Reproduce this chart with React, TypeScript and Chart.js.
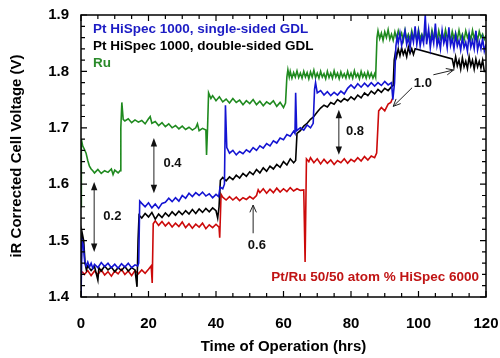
import React, { useEffect, useRef } from 'react';
import { Chart, registerables } from 'chart.js';

Chart.register(...registerables);

const FONT = '"Liberation Sans", Arial, Helvetica, sans-serif';

// Axis ranges / ticks
const xRange = [0, 120];
const yRange = [1.4, 1.9];
const xMajorStep = 20;
const xMinorStep = 5;
const yMajorStep = 0.1;
const yMinorStep = 0.02;

const xTitle = 'Time of Operation (hrs)';
const yTitle = 'iR Corrected Cell Voltage (V)';

const seriesNames = [
  'Pt HiSpec 1000, single-sided GDL',
  'Pt HiSpec 1000, double-sided GDL',
  'Ru',
  'Pt/Ru 50/50 atom % HiSpec 6000',
];

// [time (hrs), voltage (V)]
const singleSided: [number, number][] = [
  [0, 1.40], [0.3, 1.50], [0.7, 1.492], [1.1, 1.462], [1.5, 1.455], [2, 1.462], [2.5, 1.453], [3, 1.46], [3.5, 1.451],
  [4, 1.458], [5, 1.452], [6, 1.461], [7, 1.454], [8, 1.46], [9, 1.452], [10, 1.458], [11, 1.451], [12, 1.459],
  [13, 1.453], [14, 1.46], [15, 1.452], [16, 1.457], [16.8, 1.455], [17.1, 1.46], [17.4, 1.57], [18, 1.566],
  [19, 1.56], [20, 1.567], [21, 1.558], [22, 1.565], [23, 1.557], [24, 1.566], [25, 1.568], [26, 1.575],
  [27, 1.569], [28, 1.576], [29, 1.57], [30, 1.58], [31, 1.575], [32, 1.584], [33, 1.578], [34, 1.585],
  [35, 1.58], [36, 1.586], [37, 1.579], [38, 1.583], [39, 1.576], [40, 1.582], [40.8, 1.578], [41.2, 1.595],
  [42, 1.592], [42.5, 1.60], [42.8, 1.74], [43.2, 1.665], [44, 1.655], [45, 1.66], [46, 1.652], [47, 1.658],
  [48, 1.654], [49, 1.661], [50, 1.657], [51, 1.665], [52, 1.66], [53, 1.668], [54, 1.664], [55, 1.672],
  [56, 1.668], [57, 1.677], [58, 1.673], [59, 1.682], [60, 1.679], [61, 1.688], [62, 1.685], [63, 1.694],
  [63.4, 1.69], [63.6, 1.762], [63.9, 1.695], [65, 1.70], [66, 1.696], [67, 1.705], [68, 1.70], [68.8, 1.708],
  [69.2, 1.768], [69.5, 1.78], [70, 1.762], [71, 1.766], [72, 1.758], [73, 1.764], [74, 1.757], [75, 1.763],
  [76, 1.758], [77, 1.765], [78, 1.76], [79, 1.77], [80, 1.776], [81, 1.77], [82, 1.778], [83, 1.772],
  [84, 1.779], [85, 1.773], [86, 1.78], [87, 1.774], [88, 1.78], [89, 1.775], [90, 1.782], [91, 1.776],
  [92, 1.78], [92.4, 1.75], [92.9, 1.78], [93.3, 1.845], [93.7, 1.862], [94, 1.85], [94.5, 1.868], [95, 1.846],
  [95.5, 1.858], [96, 1.872], [96.5, 1.848], [97, 1.86], [97.5, 1.842], [98, 1.866], [98.5, 1.852], [99, 1.88],
  [99.5, 1.848], [100, 1.87], [100.5, 1.845], [101, 1.862], [101.5, 1.85], [102, 1.90], [102.4, 1.848],
  [103, 1.875], [103.5, 1.842], [104, 1.866], [104.5, 1.85], [105, 1.885], [105.5, 1.845], [106, 1.858],
  [106.5, 1.84], [107, 1.872], [107.5, 1.85], [108, 1.862], [108.5, 1.842], [109, 1.878], [109.5, 1.846],
  [110, 1.858], [110.5, 1.84], [111, 1.865], [111.5, 1.845], [112, 1.855], [112.5, 1.838], [113, 1.86],
  [113.5, 1.842], [114, 1.852], [114.5, 1.836], [115, 1.866], [115.5, 1.843], [116, 1.855], [116.5, 1.84],
  [117, 1.872], [117.5, 1.838], [118, 1.853], [118.5, 1.84], [119, 1.858], [119.5, 1.836], [120, 1.848],
];

const doubleSided: [number, number][] = [
  [0, 1.45], [0.3, 1.515], [0.8, 1.50], [1.2, 1.46], [1.6, 1.448], [2, 1.455], [3, 1.447], [4, 1.454], [5, 1.43],
  [5.3, 1.452], [6, 1.446], [7, 1.455], [8, 1.448], [9, 1.453], [10, 1.445], [11, 1.452], [12, 1.447],
  [13, 1.454], [14, 1.446], [15, 1.452], [16, 1.448], [16.6, 1.418], [16.9, 1.50], [17.2, 1.545], [18, 1.54],
  [19, 1.548], [20, 1.542], [21, 1.55], [22, 1.538], [23, 1.547], [24, 1.541], [25, 1.549], [26, 1.543],
  [27, 1.551], [28, 1.545], [29, 1.552], [30, 1.546], [31, 1.553], [32, 1.547], [33, 1.555], [34, 1.548],
  [35, 1.556], [36, 1.55], [37, 1.557], [38, 1.551], [39, 1.558], [40, 1.553], [40.5, 1.54], [40.9, 1.56],
  [41.3, 1.607], [42, 1.612], [43, 1.606], [44, 1.613], [45, 1.608], [46, 1.616], [47, 1.611], [48, 1.619],
  [49, 1.614], [50, 1.622], [51, 1.617], [52, 1.626], [53, 1.62], [54, 1.629], [55, 1.623], [56, 1.632],
  [57, 1.627], [58, 1.635], [59, 1.63], [60, 1.64], [61, 1.634], [62, 1.645], [63, 1.638], [63.6, 1.642],
  [64, 1.69], [65, 1.695], [66, 1.703], [67, 1.708], [68, 1.715], [69, 1.72], [70, 1.728], [71, 1.735],
  [72, 1.74], [73, 1.737], [74, 1.745], [75, 1.742], [76, 1.75], [77, 1.746], [78, 1.752], [79, 1.748],
  [80, 1.755], [81, 1.75], [82, 1.758], [83, 1.753], [84, 1.762], [85, 1.757], [86, 1.765], [87, 1.76],
  [88, 1.768], [89, 1.763], [90, 1.77], [91, 1.766], [92, 1.773], [92.5, 1.775], [92.8, 1.82], [93.2, 1.835],
  [93.5, 1.826], [94, 1.84], [94.5, 1.828], [95, 1.842], [95.5, 1.83], [96, 1.838], [96.5, 1.826], [97, 1.843],
  [97.5, 1.832], [98, 1.84], [98.5, 1.83], [99, 1.84], [110, 1.822], [110.5, 1.808], [111, 1.826], [111.5, 1.81],
  [112, 1.82], [112.5, 1.804], [113, 1.824], [113.5, 1.808], [114, 1.818], [114.5, 1.805], [115, 1.826],
  [115.5, 1.81], [116, 1.82], [116.5, 1.804], [117, 1.822], [117.5, 1.808], [118, 1.818], [118.5, 1.806],
  [119, 1.82], [119.5, 1.80], [120, 1.80],
];

const ruCell: [number, number][] = [
  [0, 1.56], [0.1, 1.68], [0.5, 1.668], [1, 1.662], [1.5, 1.655], [2, 1.642], [2.5, 1.632], [3, 1.627],
  [3.5, 1.624], [4, 1.620], [5, 1.626], [6, 1.619], [7, 1.624], [8, 1.621], [9, 1.627], [9.5, 1.617],
  [10, 1.625], [11, 1.620], [11.6, 1.624], [11.8, 1.70], [12.1, 1.745], [12.5, 1.715], [13, 1.712],
  [14, 1.716], [15, 1.709], [16, 1.714], [17, 1.71], [18, 1.713], [19, 1.707], [20, 1.716], [20.5, 1.72],
  [21, 1.708], [22, 1.711], [23, 1.704], [24, 1.709], [25, 1.702], [26, 1.707], [27, 1.700], [28, 1.704],
  [29, 1.698], [30, 1.703], [31, 1.697], [32, 1.701], [33, 1.696], [34, 1.700], [34.5, 1.707], [35, 1.695],
  [36, 1.699], [37, 1.696], [37.2, 1.652], [37.5, 1.70], [37.8, 1.762], [38.5, 1.752], [39, 1.757],
  [40, 1.748], [41, 1.755], [42, 1.746], [43, 1.751], [44, 1.744], [45, 1.752], [46, 1.745], [47, 1.749],
  [48, 1.741], [49, 1.748], [50, 1.743], [51, 1.75], [52, 1.741], [53, 1.747], [54, 1.739], [55, 1.746],
  [56, 1.742], [57, 1.748], [58, 1.738], [59, 1.745], [60, 1.736], [60.6, 1.744], [61, 1.79], [61.3, 1.803],
  [61.7, 1.79], [62, 1.8], [62.5, 1.788], [63, 1.798], [63.5, 1.79], [64, 1.801], [64.5, 1.789], [65, 1.797],
  [65.5, 1.788], [66, 1.8], [66.5, 1.79], [67, 1.798], [67.5, 1.787], [68, 1.799], [68.5, 1.79], [69, 1.802],
  [69.5, 1.789], [70, 1.797], [70.5, 1.788], [71, 1.8], [71.5, 1.79], [72, 1.796], [72.5, 1.787], [73, 1.8],
  [73.5, 1.789], [74, 1.797], [74.5, 1.788], [75, 1.801], [75.5, 1.79], [76, 1.797], [76.5, 1.787], [77, 1.799],
  [77.5, 1.79], [78, 1.796], [78.5, 1.788], [79, 1.8], [79.5, 1.789], [80, 1.797], [80.5, 1.788], [81, 1.801],
  [81.5, 1.79], [82, 1.796], [82.5, 1.787], [83, 1.8], [83.5, 1.79], [84, 1.797], [84.5, 1.788], [85, 1.799],
  [85.5, 1.789], [86, 1.797], [86.5, 1.788], [87, 1.796], [87.3, 1.79], [87.7, 1.86], [88, 1.872], [88.5, 1.858],
  [89, 1.868], [89.5, 1.855], [90, 1.87], [90.5, 1.86], [91, 1.874], [91.5, 1.857], [92, 1.866], [92.5, 1.855],
  [93, 1.87], [93.5, 1.858], [94, 1.872], [94.5, 1.86], [95, 1.868], [95.5, 1.855], [96, 1.873], [96.5, 1.858],
  [97, 1.866], [97.5, 1.856], [98, 1.872], [98.5, 1.859], [99, 1.868], [99.5, 1.855], [100, 1.874],
  [100.5, 1.858], [101, 1.866], [101.5, 1.856], [102, 1.871], [102.5, 1.858], [103, 1.868], [103.5, 1.855],
  [104, 1.873], [104.5, 1.86], [105, 1.866], [105.5, 1.855], [106, 1.872], [106.5, 1.858], [107, 1.869],
  [107.5, 1.856], [108, 1.874], [108.5, 1.86], [109, 1.866], [109.5, 1.855], [110, 1.871], [110.5, 1.858],
  [111, 1.868], [111.5, 1.856], [112, 1.873], [112.5, 1.858], [113, 1.866], [113.5, 1.855], [114, 1.872],
  [114.5, 1.86], [115, 1.867], [115.5, 1.856], [116, 1.873], [116.5, 1.858], [117, 1.868], [117.5, 1.855],
  [118, 1.871], [118.5, 1.86], [119, 1.866], [119.5, 1.857], [120, 1.864],
];

const ptRu: [number, number][] = [
  [0.3, 1.445], [1, 1.44], [2, 1.447], [3, 1.438], [4, 1.446], [5, 1.44], [6, 1.448], [7, 1.439], [8, 1.445],
  [9, 1.437], [10, 1.446], [11, 1.441], [12, 1.449], [13, 1.44], [14, 1.446], [15, 1.438], [16, 1.447],
  [17, 1.441], [18, 1.448], [19, 1.442], [20, 1.449], [20.8, 1.455], [21.1, 1.425], [21.4, 1.53], [22, 1.535],
  [23, 1.527], [24, 1.534], [25, 1.526], [26, 1.532], [27, 1.524], [28, 1.531], [29, 1.525], [30, 1.533],
  [31, 1.523], [32, 1.53], [33, 1.522], [34, 1.529], [35, 1.524], [36, 1.531], [37, 1.521], [38, 1.528],
  [39, 1.523], [40, 1.529], [40.9, 1.524], [41.1, 1.505], [41.5, 1.582], [42, 1.577], [43, 1.572], [44, 1.578],
  [45, 1.572], [46, 1.577], [47, 1.571], [48, 1.576], [49, 1.573], [50, 1.578], [51, 1.574], [52, 1.58],
  [52.5, 1.59], [53, 1.585], [54, 1.592], [55, 1.584], [56, 1.591], [57, 1.585], [58, 1.593], [59, 1.586],
  [60, 1.592], [61, 1.587], [62, 1.594], [63, 1.588], [64, 1.592], [65, 1.589], [66, 1.59], [66.4, 1.462],
  [66.8, 1.645], [67.5, 1.64], [68, 1.647], [69, 1.638], [70, 1.645], [71, 1.636], [72, 1.644], [73, 1.637],
  [74, 1.643], [75, 1.635], [76, 1.642], [77, 1.638], [78, 1.645], [79, 1.637], [80, 1.644], [81, 1.64],
  [82, 1.647], [83, 1.641], [84, 1.649], [85, 1.643], [86, 1.65], [87, 1.647], [87.6, 1.655], [88.2, 1.73],
  [89, 1.736], [90, 1.73], [91, 1.742], [91.8, 1.745], [92.3, 1.752],
];

// Annotation content (data coordinates)
const stepLabels = ['0.2', '0.4', '0.6', '0.8', '1.0'];
const labelPos: [number, number][] = [[9.3, 1.542], [27.1, 1.636], [52.1, 1.492], [81.2, 1.694], [101.3, 1.778]];
// double-headed vertical arrows: [x, yTop, yBottom]
const doubleArrows: [number, number, number][] = [[3.9, 1.604, 1.48], [21.6, 1.682, 1.584], [76.4, 1.732, 1.652]];
// single arrows: [xFrom, yFrom, xTo, yTo]
const singleArrows: [number, number, number, number][] = [
  [51.0, 1.513, 51.0, 1.563],
  [98.1, 1.771, 92.5, 1.738],
  [104.4, 1.794, 110.4, 1.8025],
];

const colors = ['#1414d2', '#000000', '#1f8a1f', '#cc0a0a'];
const textColors = ['#1c1cc4', '#000000', '#2a8a2a', '#c01414'];

function drawHead(ctx: CanvasRenderingContext2D, fx: number, fy: number, tx: number, ty: number, filled: boolean) {
  const ang = Math.atan2(ty - fy, tx - fx);
  const len = filled ? 9 : 8;
  const spread = filled ? 0.36 : 0.42;
  const ax = tx - len * Math.cos(ang - spread);
  const ay = ty - len * Math.sin(ang - spread);
  const bx = tx - len * Math.cos(ang + spread);
  const by = ty - len * Math.sin(ang + spread);
  ctx.beginPath();
  if (filled) {
    ctx.moveTo(tx, ty);
    ctx.lineTo(ax, ay);
    ctx.lineTo(bx, by);
    ctx.closePath();
    ctx.fill();
  } else {
    ctx.moveTo(ax, ay);
    ctx.lineTo(tx, ty);
    ctx.lineTo(bx, by);
    ctx.stroke();
  }
}

const decorPlugin = {
  id: 'decor',
  afterDatasetsDraw(chart: any) {
    const { ctx, chartArea: a, scales } = chart;
    const xs = scales.x;
    const ys = scales.y;
    ctx.save();
    // frame
    ctx.strokeStyle = '#000';
    ctx.lineWidth = 1.5;
    ctx.strokeRect(a.left, a.top, a.right - a.left, a.bottom - a.top);
    // inward ticks on all four sides
    ctx.lineWidth = 1.2;
    ctx.beginPath();
    const nx = Math.round((xRange[1] - xRange[0]) / xMinorStep);
    for (let i = 0; i <= nx; i++) {
      const v = xRange[0] + i * xMinorStep;
      const px = xs.getPixelForValue(v);
      const major = Math.abs(v / xMajorStep - Math.round(v / xMajorStep)) < 1e-6;
      const len = major ? 6 : 4;
      ctx.moveTo(px, a.bottom); ctx.lineTo(px, a.bottom - len);
      ctx.moveTo(px, a.top); ctx.lineTo(px, a.top + len);
    }
    const ny = Math.round((yRange[1] - yRange[0]) / yMinorStep);
    for (let i = 0; i <= ny; i++) {
      const v = yRange[0] + i * yMinorStep;
      const py = ys.getPixelForValue(v);
      const major = i % Math.round(yMajorStep / yMinorStep) === 0;
      const len = major ? 6 : 4;
      ctx.moveTo(a.left, py); ctx.lineTo(a.left + len, py);
      ctx.moveTo(a.right, py); ctx.lineTo(a.right - len, py);
    }
    ctx.stroke();

    // arrows
    ctx.strokeStyle = '#222';
    ctx.fillStyle = '#111';
    ctx.lineWidth = 1;
    doubleArrows.forEach(([x, y1, y2]) => {
      const px = xs.getPixelForValue(x);
      const p1 = ys.getPixelForValue(y1);
      const p2 = ys.getPixelForValue(y2);
      ctx.beginPath();
      ctx.moveTo(px, p1 + 4);
      ctx.lineTo(px, p2 - 4);
      ctx.stroke();
      drawHead(ctx, px, p2, px, p1, true);
      drawHead(ctx, px, p1, px, p2, true);
    });
    singleArrows.forEach(([x1, y1, x2, y2]) => {
      const fx = xs.getPixelForValue(x1);
      const fy = ys.getPixelForValue(y1);
      const tx = xs.getPixelForValue(x2);
      const ty = ys.getPixelForValue(y2);
      ctx.beginPath();
      ctx.moveTo(fx, fy);
      ctx.lineTo(tx, ty);
      ctx.stroke();
      drawHead(ctx, fx, fy, tx, ty, false);
    });

    // step labels
    ctx.fillStyle = '#111';
    ctx.font = `bold 13px ${FONT}`;
    ctx.textAlign = 'center';
    ctx.textBaseline = 'middle';
    stepLabels.forEach((t, i) => {
      const [x, y] = labelPos[i];
      ctx.fillText(t, xs.getPixelForValue(x), ys.getPixelForValue(y));
    });

    // series labels
    ctx.font = `bold 13.5px ${FONT}`;
    ctx.textAlign = 'left';
    for (let i = 0; i < 3; i++) {
      ctx.fillStyle = textColors[i];
      ctx.fillText(seriesNames[i], a.left + 12, a.top + 14 + i * 17);
    }
    ctx.textAlign = 'right';
    ctx.fillStyle = textColors[3];
    ctx.fillText(seriesNames[3], a.right - 7, a.bottom - 20);
    ctx.restore();
  },
};

export default function App() {
  const ref = useRef<HTMLCanvasElement | null>(null);

  useEffect(() => {
    if (!ref.current) return;
    const series = [singleSided, doubleSided, ruCell, ptRu];
    const chart = new Chart(ref.current, {
      type: 'line',
      data: {
        datasets: series.map((s, i) => ({
          label: seriesNames[i],
          data: s.map(([x, y]) => ({ x, y })),
          borderColor: colors[i],
          backgroundColor: colors[i],
          borderWidth: 1.6,
          pointRadius: 0,
          tension: 0,
          fill: false,
          order: i + 1,
        })),
      },
      options: {
        responsive: false,
        animation: false,
        events: [],
        layout: { padding: { top: 15, right: 14, left: 0, bottom: 0 } },
        plugins: { legend: { display: false }, tooltip: { enabled: false } },
        scales: {
          x: {
            type: 'linear',
            min: xRange[0],
            max: xRange[1],
            grid: { display: false, drawTicks: false },
            border: { display: false },
            afterFit: (s: any) => {
              s.height = 61;
              s.paddingLeft = 0;
              s.paddingRight = 0;
            },
            ticks: {
              stepSize: xMajorStep,
              padding: 18,
              color: '#000',
              font: { family: FONT, size: 15, weight: 'bold' },
              maxRotation: 0,
            },
            title: {
              display: true,
              text: xTitle,
              color: '#000',
              padding: { top: 0, bottom: 2 },
              font: { family: FONT, size: 15, weight: 'bold' },
            },
          },
          y: {
            type: 'linear',
            min: yRange[0],
            max: yRange[1],
            grid: { display: false, drawTicks: false },
            border: { display: false },
            afterFit: (s: any) => {
              s.width = 81;
              s.paddingTop = 0;
              s.paddingBottom = 0;
            },
            ticks: {
              stepSize: yMajorStep,
              padding: 12,
              color: '#000',
              font: { family: FONT, size: 15, weight: 'bold' },
              callback: (v: any) => Number(v).toFixed(1),
            },
            title: {
              display: true,
              text: yTitle,
              color: '#000',
              padding: { top: 8, bottom: 0 },
              font: { family: FONT, size: 15, weight: 'bold' },
            },
          },
        },
      },
      plugins: [decorPlugin],
    });
    return () => chart.destroy();
  }, []);

  return (
    <div style={{ position: 'absolute', left: 0, top: 0, width: 500, height: 358, background: '#fff' }}>
      <canvas ref={ref} width={500} height={358} style={{ display: 'block' }} />
    </div>
  );
}
